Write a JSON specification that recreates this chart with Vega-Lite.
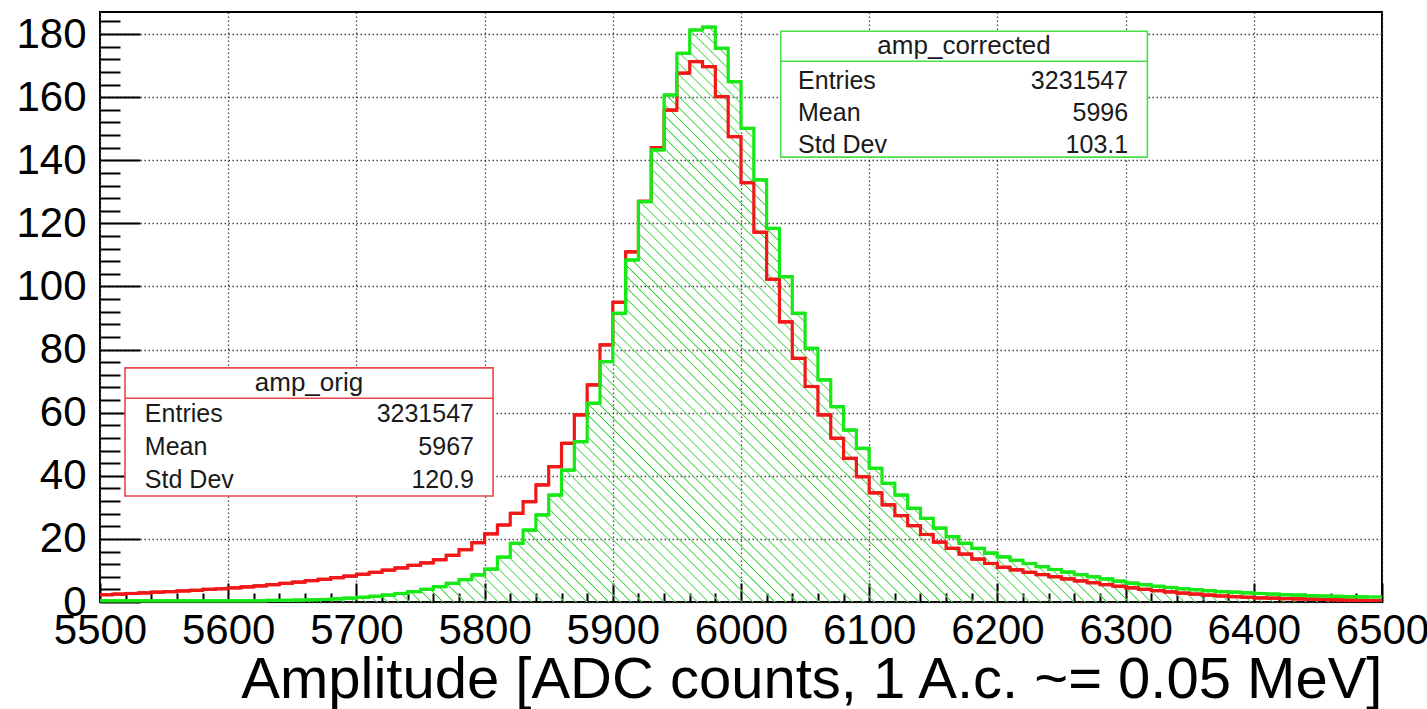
{
  "$schema": "https://vega.github.io/schema/vega-lite/v6.json",
  "width": 1282,
  "height": 590,
  "autosize": {"type": "none"},
  "padding": {"left": 100, "top": 12, "right": 45, "bottom": 107},
  "background": "white",
  "config": {
    "view": {"stroke": "#000", "strokeWidth": 2},
    "font": "Liberation Sans"
  },
  "data": {"values": [
    {"lo":5500,"hi":5510,"orig":2.3,"corr":0.4},
    {"lo":5510,"hi":5520,"orig":2.5,"corr":0.4},
    {"lo":5520,"hi":5530,"orig":2.7,"corr":0.4},
    {"lo":5530,"hi":5540,"orig":2.9,"corr":0.4},
    {"lo":5540,"hi":5550,"orig":3.1,"corr":0.4},
    {"lo":5550,"hi":5560,"orig":3.3,"corr":0.4},
    {"lo":5560,"hi":5570,"orig":3.5,"corr":0.4},
    {"lo":5570,"hi":5580,"orig":3.7,"corr":0.4},
    {"lo":5580,"hi":5590,"orig":4.0,"corr":0.4},
    {"lo":5590,"hi":5600,"orig":4.2,"corr":0.4},
    {"lo":5600,"hi":5610,"orig":4.5,"corr":0.4},
    {"lo":5610,"hi":5620,"orig":4.8,"corr":0.4},
    {"lo":5620,"hi":5630,"orig":5.1,"corr":0.4},
    {"lo":5630,"hi":5640,"orig":5.5,"corr":0.5},
    {"lo":5640,"hi":5650,"orig":5.9,"corr":0.5},
    {"lo":5650,"hi":5660,"orig":6.3,"corr":0.6},
    {"lo":5660,"hi":5670,"orig":6.8,"corr":0.7},
    {"lo":5670,"hi":5680,"orig":7.2,"corr":0.8},
    {"lo":5680,"hi":5690,"orig":7.7,"corr":1.0},
    {"lo":5690,"hi":5700,"orig":8.2,"corr":1.2},
    {"lo":5700,"hi":5710,"orig":8.8,"corr":1.5},
    {"lo":5710,"hi":5720,"orig":9.4,"corr":1.8},
    {"lo":5720,"hi":5730,"orig":10.1,"corr":2.2},
    {"lo":5730,"hi":5740,"orig":10.8,"corr":2.7},
    {"lo":5740,"hi":5750,"orig":11.6,"corr":3.3},
    {"lo":5750,"hi":5760,"orig":12.4,"corr":4.0},
    {"lo":5760,"hi":5770,"orig":13.4,"corr":4.9},
    {"lo":5770,"hi":5780,"orig":14.8,"corr":5.9},
    {"lo":5780,"hi":5790,"orig":16.6,"corr":7.1},
    {"lo":5790,"hi":5800,"orig":18.8,"corr":8.6},
    {"lo":5800,"hi":5810,"orig":21.6,"corr":10.4},
    {"lo":5810,"hi":5820,"orig":24.4,"corr":14.2},
    {"lo":5820,"hi":5830,"orig":28.1,"corr":18.6},
    {"lo":5830,"hi":5840,"orig":31.8,"corr":22.8},
    {"lo":5840,"hi":5850,"orig":37.1,"corr":27.6},
    {"lo":5850,"hi":5860,"orig":42.9,"corr":33.9},
    {"lo":5860,"hi":5870,"orig":50.3,"corr":41.8},
    {"lo":5870,"hi":5880,"orig":59.3,"corr":50.8},
    {"lo":5880,"hi":5890,"orig":68.8,"corr":63.0},
    {"lo":5890,"hi":5900,"orig":81.5,"corr":76.2},
    {"lo":5900,"hi":5910,"orig":95.0,"corr":91.5},
    {"lo":5910,"hi":5920,"orig":111.0,"corr":108.4},
    {"lo":5920,"hi":5930,"orig":127.0,"corr":126.9},
    {"lo":5930,"hi":5940,"orig":144.0,"corr":143.3},
    {"lo":5940,"hi":5950,"orig":155.9,"corr":160.7},
    {"lo":5950,"hi":5960,"orig":167.6,"corr":173.9},
    {"lo":5960,"hi":5970,"orig":171.3,"corr":181.3},
    {"lo":5970,"hi":5980,"orig":169.7,"corr":182.2},
    {"lo":5980,"hi":5990,"orig":160.2,"corr":175.5},
    {"lo":5990,"hi":6000,"orig":147.5,"corr":164.9},
    {"lo":6000,"hi":6010,"orig":132.9,"corr":150.1},
    {"lo":6010,"hi":6020,"orig":117.2,"corr":133.8},
    {"lo":6020,"hi":6030,"orig":102.3,"corr":118.4},
    {"lo":6030,"hi":6040,"orig":88.8,"corr":103.1},
    {"lo":6040,"hi":6050,"orig":77.2,"corr":91.5},
    {"lo":6050,"hi":6060,"orig":68.3,"corr":80.4},
    {"lo":6060,"hi":6070,"orig":59.3,"corr":70.4},
    {"lo":6070,"hi":6080,"orig":51.9,"corr":61.9},
    {"lo":6080,"hi":6090,"orig":45.5,"corr":54.5},
    {"lo":6090,"hi":6100,"orig":39.7,"corr":48.7},
    {"lo":6100,"hi":6110,"orig":34.6,"corr":42.4},
    {"lo":6110,"hi":6120,"orig":30.8,"corr":37.6},
    {"lo":6120,"hi":6130,"orig":27.4,"corr":33.9},
    {"lo":6130,"hi":6140,"orig":24.2,"corr":29.7},
    {"lo":6140,"hi":6150,"orig":21.4,"corr":26.5},
    {"lo":6150,"hi":6160,"orig":19.0,"corr":23.4},
    {"lo":6160,"hi":6170,"orig":17.0,"corr":20.7},
    {"lo":6170,"hi":6180,"orig":15.2,"corr":18.6},
    {"lo":6180,"hi":6190,"orig":13.6,"corr":17.0},
    {"lo":6190,"hi":6200,"orig":12.2,"corr":15.5},
    {"lo":6200,"hi":6210,"orig":11.0,"corr":14.3},
    {"lo":6210,"hi":6220,"orig":10.2,"corr":13.2},
    {"lo":6220,"hi":6230,"orig":9.4,"corr":12.2},
    {"lo":6230,"hi":6240,"orig":8.7,"corr":11.2},
    {"lo":6240,"hi":6250,"orig":8.0,"corr":10.3},
    {"lo":6250,"hi":6260,"orig":7.3,"corr":9.5},
    {"lo":6260,"hi":6270,"orig":6.7,"corr":8.7},
    {"lo":6270,"hi":6280,"orig":6.1,"corr":8.0},
    {"lo":6280,"hi":6290,"orig":5.5,"corr":7.3},
    {"lo":6290,"hi":6300,"orig":5.0,"corr":6.6},
    {"lo":6300,"hi":6310,"orig":4.5,"corr":6.0},
    {"lo":6310,"hi":6320,"orig":4.0,"corr":5.5},
    {"lo":6320,"hi":6330,"orig":3.6,"corr":5.0},
    {"lo":6330,"hi":6340,"orig":3.2,"corr":4.6},
    {"lo":6340,"hi":6350,"orig":2.8,"corr":4.2},
    {"lo":6350,"hi":6360,"orig":2.5,"corr":3.9},
    {"lo":6360,"hi":6370,"orig":2.2,"corr":3.6},
    {"lo":6370,"hi":6380,"orig":1.9,"corr":3.3},
    {"lo":6380,"hi":6390,"orig":1.7,"corr":3.1},
    {"lo":6390,"hi":6400,"orig":1.5,"corr":2.9},
    {"lo":6400,"hi":6410,"orig":1.3,"corr":2.7},
    {"lo":6410,"hi":6420,"orig":1.2,"corr":2.5},
    {"lo":6420,"hi":6430,"orig":1.1,"corr":2.3},
    {"lo":6430,"hi":6440,"orig":1.0,"corr":2.2},
    {"lo":6440,"hi":6450,"orig":0.9,"corr":2.0},
    {"lo":6450,"hi":6460,"orig":0.8,"corr":1.9},
    {"lo":6460,"hi":6470,"orig":0.7,"corr":1.8},
    {"lo":6470,"hi":6480,"orig":0.6,"corr":1.7},
    {"lo":6480,"hi":6490,"orig":0.5,"corr":1.6},
    {"lo":6490,"hi":6500,"orig":0.5,"corr":1.6}
  ]},
  "layer": [
    {
      "mark": {"type": "area", "interpolate": "step-after",
        "fill": {"gradient": "linear", "x1": 0, "y1": 1, "x2": 1.2056, "y2": 0.4538, "stops": [
{"offset":0.0051,"color":"#fff0"},{"offset":0.006,"color":"#2c2"},{"offset":0.0069,"color":"#fff0"},
{"offset":0.0111,"color":"#fff0"},{"offset":0.012,"color":"#2c2"},{"offset":0.0129,"color":"#fff0"},
{"offset":0.0171,"color":"#fff0"},{"offset":0.018,"color":"#2c2"},{"offset":0.0189,"color":"#fff0"},
{"offset":0.0231,"color":"#fff0"},{"offset":0.024,"color":"#2c2"},{"offset":0.0249,"color":"#fff0"},
{"offset":0.0291,"color":"#fff0"},{"offset":0.030,"color":"#2c2"},{"offset":0.0309,"color":"#fff0"},
{"offset":0.0351,"color":"#fff0"},{"offset":0.036,"color":"#2c2"},{"offset":0.0369,"color":"#fff0"},
{"offset":0.0411,"color":"#fff0"},{"offset":0.042,"color":"#2c2"},{"offset":0.0429,"color":"#fff0"},
{"offset":0.0471,"color":"#fff0"},{"offset":0.048,"color":"#2c2"},{"offset":0.0489,"color":"#fff0"},
{"offset":0.0531,"color":"#fff0"},{"offset":0.054,"color":"#2c2"},{"offset":0.0549,"color":"#fff0"},
{"offset":0.0591,"color":"#fff0"},{"offset":0.060,"color":"#2c2"},{"offset":0.0609,"color":"#fff0"},
{"offset":0.0651,"color":"#fff0"},{"offset":0.066,"color":"#2c2"},{"offset":0.0669,"color":"#fff0"},
{"offset":0.0711,"color":"#fff0"},{"offset":0.072,"color":"#2c2"},{"offset":0.0729,"color":"#fff0"},
{"offset":0.0771,"color":"#fff0"},{"offset":0.078,"color":"#2c2"},{"offset":0.0789,"color":"#fff0"},
{"offset":0.0831,"color":"#fff0"},{"offset":0.084,"color":"#2c2"},{"offset":0.0849,"color":"#fff0"},
{"offset":0.0891,"color":"#fff0"},{"offset":0.090,"color":"#2c2"},{"offset":0.0909,"color":"#fff0"},
{"offset":0.0951,"color":"#fff0"},{"offset":0.096,"color":"#2c2"},{"offset":0.0969,"color":"#fff0"},
{"offset":0.1011,"color":"#fff0"},{"offset":0.102,"color":"#2c2"},{"offset":0.1029,"color":"#fff0"},
{"offset":0.1071,"color":"#fff0"},{"offset":0.108,"color":"#2c2"},{"offset":0.1089,"color":"#fff0"},
{"offset":0.1131,"color":"#fff0"},{"offset":0.114,"color":"#2c2"},{"offset":0.1149,"color":"#fff0"},
{"offset":0.1191,"color":"#fff0"},{"offset":0.120,"color":"#2c2"},{"offset":0.1209,"color":"#fff0"},
{"offset":0.1251,"color":"#fff0"},{"offset":0.126,"color":"#2c2"},{"offset":0.1269,"color":"#fff0"},
{"offset":0.1311,"color":"#fff0"},{"offset":0.132,"color":"#2c2"},{"offset":0.1329,"color":"#fff0"},
{"offset":0.1371,"color":"#fff0"},{"offset":0.138,"color":"#2c2"},{"offset":0.1389,"color":"#fff0"},
{"offset":0.1431,"color":"#fff0"},{"offset":0.144,"color":"#2c2"},{"offset":0.1449,"color":"#fff0"},
{"offset":0.1491,"color":"#fff0"},{"offset":0.150,"color":"#2c2"},{"offset":0.1509,"color":"#fff0"},
{"offset":0.1551,"color":"#fff0"},{"offset":0.156,"color":"#2c2"},{"offset":0.1569,"color":"#fff0"},
{"offset":0.1611,"color":"#fff0"},{"offset":0.162,"color":"#2c2"},{"offset":0.1629,"color":"#fff0"},
{"offset":0.1671,"color":"#fff0"},{"offset":0.168,"color":"#2c2"},{"offset":0.1689,"color":"#fff0"},
{"offset":0.1731,"color":"#fff0"},{"offset":0.174,"color":"#2c2"},{"offset":0.1749,"color":"#fff0"},
{"offset":0.1791,"color":"#fff0"},{"offset":0.180,"color":"#2c2"},{"offset":0.1809,"color":"#fff0"},
{"offset":0.1851,"color":"#fff0"},{"offset":0.186,"color":"#2c2"},{"offset":0.1869,"color":"#fff0"},
{"offset":0.1911,"color":"#fff0"},{"offset":0.192,"color":"#2c2"},{"offset":0.1929,"color":"#fff0"},
{"offset":0.1971,"color":"#fff0"},{"offset":0.198,"color":"#2c2"},{"offset":0.1989,"color":"#fff0"},
{"offset":0.2031,"color":"#fff0"},{"offset":0.204,"color":"#2c2"},{"offset":0.2049,"color":"#fff0"},
{"offset":0.2091,"color":"#fff0"},{"offset":0.210,"color":"#2c2"},{"offset":0.2109,"color":"#fff0"},
{"offset":0.2151,"color":"#fff0"},{"offset":0.216,"color":"#2c2"},{"offset":0.2169,"color":"#fff0"},
{"offset":0.2211,"color":"#fff0"},{"offset":0.222,"color":"#2c2"},{"offset":0.2229,"color":"#fff0"},
{"offset":0.2271,"color":"#fff0"},{"offset":0.228,"color":"#2c2"},{"offset":0.2289,"color":"#fff0"},
{"offset":0.2331,"color":"#fff0"},{"offset":0.234,"color":"#2c2"},{"offset":0.2349,"color":"#fff0"},
{"offset":0.2391,"color":"#fff0"},{"offset":0.240,"color":"#2c2"},{"offset":0.2409,"color":"#fff0"},
{"offset":0.2451,"color":"#fff0"},{"offset":0.246,"color":"#2c2"},{"offset":0.2469,"color":"#fff0"},
{"offset":0.2511,"color":"#fff0"},{"offset":0.252,"color":"#2c2"},{"offset":0.2529,"color":"#fff0"},
{"offset":0.2571,"color":"#fff0"},{"offset":0.258,"color":"#2c2"},{"offset":0.2589,"color":"#fff0"},
{"offset":0.2631,"color":"#fff0"},{"offset":0.264,"color":"#2c2"},{"offset":0.2649,"color":"#fff0"},
{"offset":0.2691,"color":"#fff0"},{"offset":0.270,"color":"#2c2"},{"offset":0.2709,"color":"#fff0"},
{"offset":0.2751,"color":"#fff0"},{"offset":0.276,"color":"#2c2"},{"offset":0.2769,"color":"#fff0"},
{"offset":0.2811,"color":"#fff0"},{"offset":0.282,"color":"#2c2"},{"offset":0.2829,"color":"#fff0"},
{"offset":0.2871,"color":"#fff0"},{"offset":0.288,"color":"#2c2"},{"offset":0.2889,"color":"#fff0"},
{"offset":0.2931,"color":"#fff0"},{"offset":0.294,"color":"#2c2"},{"offset":0.2949,"color":"#fff0"},
{"offset":0.2991,"color":"#fff0"},{"offset":0.300,"color":"#2c2"},{"offset":0.3009,"color":"#fff0"},
{"offset":0.3051,"color":"#fff0"},{"offset":0.306,"color":"#2c2"},{"offset":0.3069,"color":"#fff0"},
{"offset":0.3111,"color":"#fff0"},{"offset":0.312,"color":"#2c2"},{"offset":0.3129,"color":"#fff0"},
{"offset":0.3171,"color":"#fff0"},{"offset":0.318,"color":"#2c2"},{"offset":0.3189,"color":"#fff0"},
{"offset":0.3231,"color":"#fff0"},{"offset":0.324,"color":"#2c2"},{"offset":0.3249,"color":"#fff0"},
{"offset":0.3291,"color":"#fff0"},{"offset":0.330,"color":"#2c2"},{"offset":0.3309,"color":"#fff0"},
{"offset":0.3351,"color":"#fff0"},{"offset":0.336,"color":"#2c2"},{"offset":0.3369,"color":"#fff0"},
{"offset":0.3411,"color":"#fff0"},{"offset":0.342,"color":"#2c2"},{"offset":0.3429,"color":"#fff0"},
{"offset":0.3471,"color":"#fff0"},{"offset":0.348,"color":"#2c2"},{"offset":0.3489,"color":"#fff0"},
{"offset":0.3531,"color":"#fff0"},{"offset":0.354,"color":"#2c2"},{"offset":0.3549,"color":"#fff0"},
{"offset":0.3591,"color":"#fff0"},{"offset":0.360,"color":"#2c2"},{"offset":0.3609,"color":"#fff0"},
{"offset":0.3651,"color":"#fff0"},{"offset":0.366,"color":"#2c2"},{"offset":0.3669,"color":"#fff0"},
{"offset":0.3711,"color":"#fff0"},{"offset":0.372,"color":"#2c2"},{"offset":0.3729,"color":"#fff0"},
{"offset":0.3771,"color":"#fff0"},{"offset":0.378,"color":"#2c2"},{"offset":0.3789,"color":"#fff0"},
{"offset":0.3831,"color":"#fff0"},{"offset":0.384,"color":"#2c2"},{"offset":0.3849,"color":"#fff0"},
{"offset":0.3891,"color":"#fff0"},{"offset":0.390,"color":"#2c2"},{"offset":0.3909,"color":"#fff0"},
{"offset":0.3951,"color":"#fff0"},{"offset":0.396,"color":"#2c2"},{"offset":0.3969,"color":"#fff0"},
{"offset":0.4011,"color":"#fff0"},{"offset":0.402,"color":"#2c2"},{"offset":0.4029,"color":"#fff0"},
{"offset":0.4071,"color":"#fff0"},{"offset":0.408,"color":"#2c2"},{"offset":0.4089,"color":"#fff0"},
{"offset":0.4131,"color":"#fff0"},{"offset":0.414,"color":"#2c2"},{"offset":0.4149,"color":"#fff0"},
{"offset":0.4191,"color":"#fff0"},{"offset":0.420,"color":"#2c2"},{"offset":0.4209,"color":"#fff0"},
{"offset":0.4251,"color":"#fff0"},{"offset":0.426,"color":"#2c2"},{"offset":0.4269,"color":"#fff0"},
{"offset":0.4311,"color":"#fff0"},{"offset":0.432,"color":"#2c2"},{"offset":0.4329,"color":"#fff0"},
{"offset":0.4371,"color":"#fff0"},{"offset":0.438,"color":"#2c2"},{"offset":0.4389,"color":"#fff0"},
{"offset":0.4431,"color":"#fff0"},{"offset":0.444,"color":"#2c2"},{"offset":0.4449,"color":"#fff0"},
{"offset":0.4491,"color":"#fff0"},{"offset":0.450,"color":"#2c2"},{"offset":0.4509,"color":"#fff0"},
{"offset":0.4551,"color":"#fff0"},{"offset":0.456,"color":"#2c2"},{"offset":0.4569,"color":"#fff0"},
{"offset":0.4611,"color":"#fff0"},{"offset":0.462,"color":"#2c2"},{"offset":0.4629,"color":"#fff0"},
{"offset":0.4671,"color":"#fff0"},{"offset":0.468,"color":"#2c2"},{"offset":0.4689,"color":"#fff0"},
{"offset":0.4731,"color":"#fff0"},{"offset":0.474,"color":"#2c2"},{"offset":0.4749,"color":"#fff0"},
{"offset":0.4791,"color":"#fff0"},{"offset":0.480,"color":"#2c2"},{"offset":0.4809,"color":"#fff0"},
{"offset":0.4851,"color":"#fff0"},{"offset":0.486,"color":"#2c2"},{"offset":0.4869,"color":"#fff0"},
{"offset":0.4911,"color":"#fff0"},{"offset":0.492,"color":"#2c2"},{"offset":0.4929,"color":"#fff0"},
{"offset":0.4971,"color":"#fff0"},{"offset":0.498,"color":"#2c2"},{"offset":0.4989,"color":"#fff0"},
{"offset":0.5031,"color":"#fff0"},{"offset":0.504,"color":"#2c2"},{"offset":0.5049,"color":"#fff0"},
{"offset":0.5091,"color":"#fff0"},{"offset":0.510,"color":"#2c2"},{"offset":0.5109,"color":"#fff0"},
{"offset":0.5151,"color":"#fff0"},{"offset":0.516,"color":"#2c2"},{"offset":0.5169,"color":"#fff0"},
{"offset":0.5211,"color":"#fff0"},{"offset":0.522,"color":"#2c2"},{"offset":0.5229,"color":"#fff0"},
{"offset":0.5271,"color":"#fff0"},{"offset":0.528,"color":"#2c2"},{"offset":0.5289,"color":"#fff0"},
{"offset":0.5331,"color":"#fff0"},{"offset":0.534,"color":"#2c2"},{"offset":0.5349,"color":"#fff0"},
{"offset":0.5391,"color":"#fff0"},{"offset":0.540,"color":"#2c2"},{"offset":0.5409,"color":"#fff0"},
{"offset":0.5451,"color":"#fff0"},{"offset":0.546,"color":"#2c2"},{"offset":0.5469,"color":"#fff0"},
{"offset":0.5511,"color":"#fff0"},{"offset":0.552,"color":"#2c2"},{"offset":0.5529,"color":"#fff0"},
{"offset":0.5571,"color":"#fff0"},{"offset":0.558,"color":"#2c2"},{"offset":0.5589,"color":"#fff0"},
{"offset":0.5631,"color":"#fff0"},{"offset":0.564,"color":"#2c2"},{"offset":0.5649,"color":"#fff0"},
{"offset":0.5691,"color":"#fff0"},{"offset":0.570,"color":"#2c2"},{"offset":0.5709,"color":"#fff0"},
{"offset":0.5751,"color":"#fff0"},{"offset":0.576,"color":"#2c2"},{"offset":0.5769,"color":"#fff0"},
{"offset":0.5811,"color":"#fff0"},{"offset":0.582,"color":"#2c2"},{"offset":0.5829,"color":"#fff0"},
{"offset":0.5871,"color":"#fff0"},{"offset":0.588,"color":"#2c2"},{"offset":0.5889,"color":"#fff0"},
{"offset":0.5931,"color":"#fff0"},{"offset":0.594,"color":"#2c2"},{"offset":0.5949,"color":"#fff0"},
{"offset":0.5991,"color":"#fff0"},{"offset":0.600,"color":"#2c2"},{"offset":0.6009,"color":"#fff0"},
{"offset":0.6051,"color":"#fff0"},{"offset":0.606,"color":"#2c2"},{"offset":0.6069,"color":"#fff0"},
{"offset":0.6111,"color":"#fff0"},{"offset":0.612,"color":"#2c2"},{"offset":0.6129,"color":"#fff0"},
{"offset":0.6171,"color":"#fff0"},{"offset":0.618,"color":"#2c2"},{"offset":0.6189,"color":"#fff0"},
{"offset":0.6231,"color":"#fff0"},{"offset":0.624,"color":"#2c2"},{"offset":0.6249,"color":"#fff0"},
{"offset":0.6291,"color":"#fff0"},{"offset":0.630,"color":"#2c2"},{"offset":0.6309,"color":"#fff0"},
{"offset":0.6351,"color":"#fff0"},{"offset":0.636,"color":"#2c2"},{"offset":0.6369,"color":"#fff0"},
{"offset":0.6411,"color":"#fff0"},{"offset":0.642,"color":"#2c2"},{"offset":0.6429,"color":"#fff0"},
{"offset":0.6471,"color":"#fff0"},{"offset":0.648,"color":"#2c2"},{"offset":0.6489,"color":"#fff0"},
{"offset":0.6531,"color":"#fff0"},{"offset":0.654,"color":"#2c2"},{"offset":0.6549,"color":"#fff0"},
{"offset":0.6591,"color":"#fff0"},{"offset":0.660,"color":"#2c2"},{"offset":0.6609,"color":"#fff0"},
{"offset":0.6651,"color":"#fff0"},{"offset":0.666,"color":"#2c2"},{"offset":0.6669,"color":"#fff0"},
{"offset":0.6711,"color":"#fff0"},{"offset":0.672,"color":"#2c2"},{"offset":0.6729,"color":"#fff0"},
{"offset":0.6771,"color":"#fff0"},{"offset":0.678,"color":"#2c2"},{"offset":0.6789,"color":"#fff0"},
{"offset":0.6831,"color":"#fff0"},{"offset":0.684,"color":"#2c2"},{"offset":0.6849,"color":"#fff0"},
{"offset":0.6891,"color":"#fff0"},{"offset":0.690,"color":"#2c2"},{"offset":0.6909,"color":"#fff0"},
{"offset":0.6951,"color":"#fff0"},{"offset":0.696,"color":"#2c2"},{"offset":0.6969,"color":"#fff0"},
{"offset":0.7011,"color":"#fff0"},{"offset":0.702,"color":"#2c2"},{"offset":0.7029,"color":"#fff0"},
{"offset":0.7071,"color":"#fff0"},{"offset":0.708,"color":"#2c2"},{"offset":0.7089,"color":"#fff0"},
{"offset":0.7131,"color":"#fff0"},{"offset":0.714,"color":"#2c2"},{"offset":0.7149,"color":"#fff0"},
{"offset":0.7191,"color":"#fff0"},{"offset":0.720,"color":"#2c2"},{"offset":0.7209,"color":"#fff0"},
{"offset":0.7251,"color":"#fff0"},{"offset":0.726,"color":"#2c2"},{"offset":0.7269,"color":"#fff0"},
{"offset":0.7311,"color":"#fff0"},{"offset":0.732,"color":"#2c2"},{"offset":0.7329,"color":"#fff0"},
{"offset":0.7371,"color":"#fff0"},{"offset":0.738,"color":"#2c2"},{"offset":0.7389,"color":"#fff0"},
{"offset":0.7431,"color":"#fff0"},{"offset":0.744,"color":"#2c2"},{"offset":0.7449,"color":"#fff0"},
{"offset":0.7491,"color":"#fff0"},{"offset":0.750,"color":"#2c2"},{"offset":0.7509,"color":"#fff0"},
{"offset":0.7551,"color":"#fff0"},{"offset":0.756,"color":"#2c2"},{"offset":0.7569,"color":"#fff0"},
{"offset":0.7611,"color":"#fff0"},{"offset":0.762,"color":"#2c2"},{"offset":0.7629,"color":"#fff0"},
{"offset":0.7671,"color":"#fff0"},{"offset":0.768,"color":"#2c2"},{"offset":0.7689,"color":"#fff0"},
{"offset":0.7731,"color":"#fff0"},{"offset":0.774,"color":"#2c2"},{"offset":0.7749,"color":"#fff0"},
{"offset":0.7791,"color":"#fff0"},{"offset":0.780,"color":"#2c2"},{"offset":0.7809,"color":"#fff0"},
{"offset":0.7851,"color":"#fff0"},{"offset":0.786,"color":"#2c2"},{"offset":0.7869,"color":"#fff0"},
{"offset":0.7911,"color":"#fff0"},{"offset":0.792,"color":"#2c2"},{"offset":0.7929,"color":"#fff0"},
{"offset":0.7971,"color":"#fff0"},{"offset":0.798,"color":"#2c2"},{"offset":0.7989,"color":"#fff0"},
{"offset":0.8031,"color":"#fff0"},{"offset":0.804,"color":"#2c2"},{"offset":0.8049,"color":"#fff0"},
{"offset":0.8091,"color":"#fff0"},{"offset":0.810,"color":"#2c2"},{"offset":0.8109,"color":"#fff0"},
{"offset":0.8151,"color":"#fff0"},{"offset":0.816,"color":"#2c2"},{"offset":0.8169,"color":"#fff0"},
{"offset":0.8211,"color":"#fff0"},{"offset":0.822,"color":"#2c2"},{"offset":0.8229,"color":"#fff0"},
{"offset":0.8271,"color":"#fff0"},{"offset":0.828,"color":"#2c2"},{"offset":0.8289,"color":"#fff0"},
{"offset":0.8331,"color":"#fff0"},{"offset":0.834,"color":"#2c2"},{"offset":0.8349,"color":"#fff0"},
{"offset":0.8391,"color":"#fff0"},{"offset":0.840,"color":"#2c2"},{"offset":0.8409,"color":"#fff0"},
{"offset":0.8451,"color":"#fff0"},{"offset":0.846,"color":"#2c2"},{"offset":0.8469,"color":"#fff0"},
{"offset":0.8511,"color":"#fff0"},{"offset":0.852,"color":"#2c2"},{"offset":0.8529,"color":"#fff0"},
{"offset":0.8571,"color":"#fff0"},{"offset":0.858,"color":"#2c2"},{"offset":0.8589,"color":"#fff0"},
{"offset":0.8631,"color":"#fff0"},{"offset":0.864,"color":"#2c2"},{"offset":0.8649,"color":"#fff0"},
{"offset":0.8691,"color":"#fff0"},{"offset":0.870,"color":"#2c2"},{"offset":0.8709,"color":"#fff0"},
{"offset":0.8751,"color":"#fff0"},{"offset":0.876,"color":"#2c2"},{"offset":0.8769,"color":"#fff0"},
{"offset":0.8811,"color":"#fff0"},{"offset":0.882,"color":"#2c2"},{"offset":0.8829,"color":"#fff0"},
{"offset":0.8871,"color":"#fff0"},{"offset":0.888,"color":"#2c2"},{"offset":0.8889,"color":"#fff0"},
{"offset":0.8931,"color":"#fff0"},{"offset":0.894,"color":"#2c2"},{"offset":0.8949,"color":"#fff0"},
{"offset":0.8991,"color":"#fff0"},{"offset":0.900,"color":"#2c2"},{"offset":0.9009,"color":"#fff0"},
{"offset":0.9051,"color":"#fff0"},{"offset":0.906,"color":"#2c2"},{"offset":0.9069,"color":"#fff0"},
{"offset":0.9111,"color":"#fff0"},{"offset":0.912,"color":"#2c2"},{"offset":0.9129,"color":"#fff0"},
{"offset":0.9171,"color":"#fff0"},{"offset":0.918,"color":"#2c2"},{"offset":0.9189,"color":"#fff0"},
{"offset":0.9231,"color":"#fff0"},{"offset":0.924,"color":"#2c2"},{"offset":0.9249,"color":"#fff0"},
{"offset":0.9291,"color":"#fff0"},{"offset":0.930,"color":"#2c2"},{"offset":0.9309,"color":"#fff0"},
{"offset":0.9351,"color":"#fff0"},{"offset":0.936,"color":"#2c2"},{"offset":0.9369,"color":"#fff0"},
{"offset":0.9411,"color":"#fff0"},{"offset":0.942,"color":"#2c2"},{"offset":0.9429,"color":"#fff0"},
{"offset":0.9471,"color":"#fff0"},{"offset":0.948,"color":"#2c2"},{"offset":0.9489,"color":"#fff0"},
{"offset":0.9531,"color":"#fff0"},{"offset":0.954,"color":"#2c2"},{"offset":0.9549,"color":"#fff0"},
{"offset":0.9591,"color":"#fff0"},{"offset":0.960,"color":"#2c2"},{"offset":0.9609,"color":"#fff0"},
{"offset":0.9651,"color":"#fff0"},{"offset":0.966,"color":"#2c2"},{"offset":0.9669,"color":"#fff0"},
{"offset":0.9711,"color":"#fff0"},{"offset":0.972,"color":"#2c2"},{"offset":0.9729,"color":"#fff0"},
{"offset":0.9771,"color":"#fff0"},{"offset":0.978,"color":"#2c2"},{"offset":0.9789,"color":"#fff0"},
{"offset":0.9831,"color":"#fff0"},{"offset":0.984,"color":"#2c2"},{"offset":0.9849,"color":"#fff0"},
{"offset":0.9891,"color":"#fff0"},{"offset":0.990,"color":"#2c2"},{"offset":0.9909,"color":"#fff0"},
{"offset":0.9951,"color":"#fff0"},{"offset":0.996,"color":"#2c2"},{"offset":0.9969,"color":"#fff0"}
        ]}
      },
      "encoding": {
        "x": {"field": "lo", "type": "quantitative",
          "scale": {"domain": [5500, 6500], "nice": false, "zero": false},
          "axis": {
            "values": [5500,5600,5700,5800,5900,6000,6100,6200,6300,6400,6500],
            "format": "d", "grid": true, "gridColor": "#444", "gridDash": [1.5, 2.5], "gridWidth": 1.3,
            "domain": false, "ticks": true, "tickSize": -19, "tickWidth": 2, "tickColor": "#000",
            "labelFontSize": 42, "labelPadding": 27, "labelColor": "#000", "labelFlush": false,
            "labelOverlap": false, "labelBound": false, "labelFont": "Liberation Sans",
            "title": "Amplitude [ADC counts, 1 A.c. ~= 0.05 MeV]", "titleFontSize": 58,
            "titleFontWeight": "normal", "titleAnchor": "end", "titleColor": "#000",
            "titleFont": "Liberation Sans", "titlePadding": 0
          }
        },
        "y": {"field": "corr", "type": "quantitative",
          "scale": {"domain": [0, 187], "nice": false, "zero": true},
          "axis": {
            "values": [0,20,40,60,80,100,120,140,160,180],
            "format": "d", "grid": true, "gridColor": "#444", "gridDash": [1.5, 2.5], "gridWidth": 1.3,
            "domain": false, "ticks": true, "tickSize": -40, "tickWidth": 2, "tickColor": "#000",
            "labelFontSize": 42, "labelPadding": 54, "labelColor": "#000", "labelFlush": false,
            "labelOverlap": false, "labelBound": false, "labelFont": "Liberation Sans",
            "title": null
          }
        }
      }
    },
    {
      "mark": {"type": "line", "interpolate": "step-after", "color": "#f01818", "strokeWidth": 3.2},
      "encoding": {
        "x": {"field": "lo", "type": "quantitative",
          "axis": {
            "values": [5520,5540,5560,5580,5620,5640,5660,5680,5720,5740,5760,5780,5820,5840,5860,5880,5920,5940,5960,5980,6020,6040,6060,6080,6120,6140,6160,6180,6220,6240,6260,6280,6320,6340,6360,6380,6420,6440,6460,6480],
            "orient": "bottom", "grid": false, "domain": false, "labels": false, "title": null,
            "tickSize": -9, "tickWidth": 2, "tickColor": "#000"
          }
        },
        "y": {"field": "orig", "type": "quantitative",
          "axis": {
            "values": [4,8,12,16,24,28,32,36,44,48,52,56,64,68,72,76,84,88,92,96,104,108,112,116,124,128,132,136,144,148,152,156,164,168,172,176,184],
            "orient": "left", "grid": false, "domain": false, "labels": false, "title": null,
            "tickSize": -20, "tickWidth": 2, "tickColor": "#000"
          }
        }
      }
    },
    {
      "mark": {"type": "rule", "color": "#f01818", "strokeWidth": 3.2},
      "encoding": {
        "x": {"field": "lo", "type": "quantitative", "axis": null},
        "x2": {"field": "hi"},
        "y": {"field": "orig", "type": "quantitative", "axis": null}
      }
    },
    {
      "mark": {"type": "line", "interpolate": "step-after", "color": "#18e818", "strokeWidth": 3.2},
      "encoding": {
        "x": {"field": "lo", "type": "quantitative", "axis": null},
        "y": {"field": "corr", "type": "quantitative", "axis": null}
      }
    },
    {
      "mark": {"type": "rule", "color": "#18e818", "strokeWidth": 3.2},
      "encoding": {
        "x": {"field": "lo", "type": "quantitative", "axis": null},
        "x2": {"field": "hi"},
        "y": {"field": "corr", "type": "quantitative", "axis": null}
      }
    },
    {
      "data": {"values": [{}]},
      "mark": {"type": "rect", "fill": "#fff", "stroke": "#4ade4a", "strokeWidth": 1.6},
      "encoding": {
        "x": {"datum": 6031, "type": "quantitative", "axis": null},
        "x2": {"datum": 6317},
        "y": {"datum": 180.9, "type": "quantitative", "axis": null},
        "y2": {"datum": 141.0}
      }
    },
    {
      "data": {"values": [{}]},
      "mark": {"type": "rule", "stroke": "#4ade4a", "strokeWidth": 1.6},
      "encoding": {
        "x": {"datum": 6031, "type": "quantitative", "axis": null},
        "x2": {"datum": 6317},
        "y": {"datum": 171.4, "type": "quantitative", "axis": null}
      }
    },
    {
      "data": {"values": [{}]},
      "mark": {"type": "text", "text": "amp_corrected", "align": "center", "baseline": "middle", "fontSize": 26, "color": "#1a1a1a"},
      "encoding": {
        "x": {"datum": 6174, "type": "quantitative", "axis": null},
        "y": {"datum": 176.2, "type": "quantitative", "axis": null}
      }
    },
    {
      "data": {"values": [{}]},
      "mark": {"type": "text", "text": ["Entries", "Mean", "Std Dev"], "align": "left", "baseline": "middle", "fontSize": 25, "lineHeight": 32, "color": "#1a1a1a"},
      "encoding": {
        "x": {"datum": 6044.5, "type": "quantitative", "axis": null},
        "y": {"datum": 165.1, "type": "quantitative", "axis": null}
      }
    },
    {
      "data": {"values": [{}]},
      "mark": {"type": "text", "text": ["3231547", "5996", "103.1"], "align": "right", "baseline": "middle", "fontSize": 25, "lineHeight": 32, "color": "#1a1a1a"},
      "encoding": {
        "x": {"datum": 6302, "type": "quantitative", "axis": null},
        "y": {"datum": 165.1, "type": "quantitative", "axis": null}
      }
    },
    {
      "data": {"values": [{}]},
      "mark": {"type": "rect", "fill": "#fff", "stroke": "#e84848", "strokeWidth": 1.6},
      "encoding": {
        "x": {"datum": 5519.5, "type": "quantitative", "axis": null},
        "x2": {"datum": 5806.6},
        "y": {"datum": 74.2, "type": "quantitative", "axis": null},
        "y2": {"datum": 33.6}
      }
    },
    {
      "data": {"values": [{}]},
      "mark": {"type": "rule", "stroke": "#e84848", "strokeWidth": 1.6},
      "encoding": {
        "x": {"datum": 5519.5, "type": "quantitative", "axis": null},
        "x2": {"datum": 5806.6},
        "y": {"datum": 64.6, "type": "quantitative", "axis": null}
      }
    },
    {
      "data": {"values": [{}]},
      "mark": {"type": "text", "text": "amp_orig", "align": "center", "baseline": "middle", "fontSize": 26, "color": "#1a1a1a"},
      "encoding": {
        "x": {"datum": 5663, "type": "quantitative", "axis": null},
        "y": {"datum": 69.3, "type": "quantitative", "axis": null}
      }
    },
    {
      "data": {"values": [{}]},
      "mark": {"type": "text", "text": ["Entries", "Mean", "Std Dev"], "align": "left", "baseline": "middle", "fontSize": 25, "lineHeight": 33, "color": "#1a1a1a"},
      "encoding": {
        "x": {"datum": 5535, "type": "quantitative", "axis": null},
        "y": {"datum": 59.6, "type": "quantitative", "axis": null}
      }
    },
    {
      "data": {"values": [{}]},
      "mark": {"type": "text", "text": ["3231547", "5967", "120.9"], "align": "right", "baseline": "middle", "fontSize": 25, "lineHeight": 33, "color": "#1a1a1a"},
      "encoding": {
        "x": {"datum": 5791.7, "type": "quantitative", "axis": null},
        "y": {"datum": 59.6, "type": "quantitative", "axis": null}
      }
    }
  ],
  "resolve": {"axis": {"x": "independent", "y": "independent"}}
}
